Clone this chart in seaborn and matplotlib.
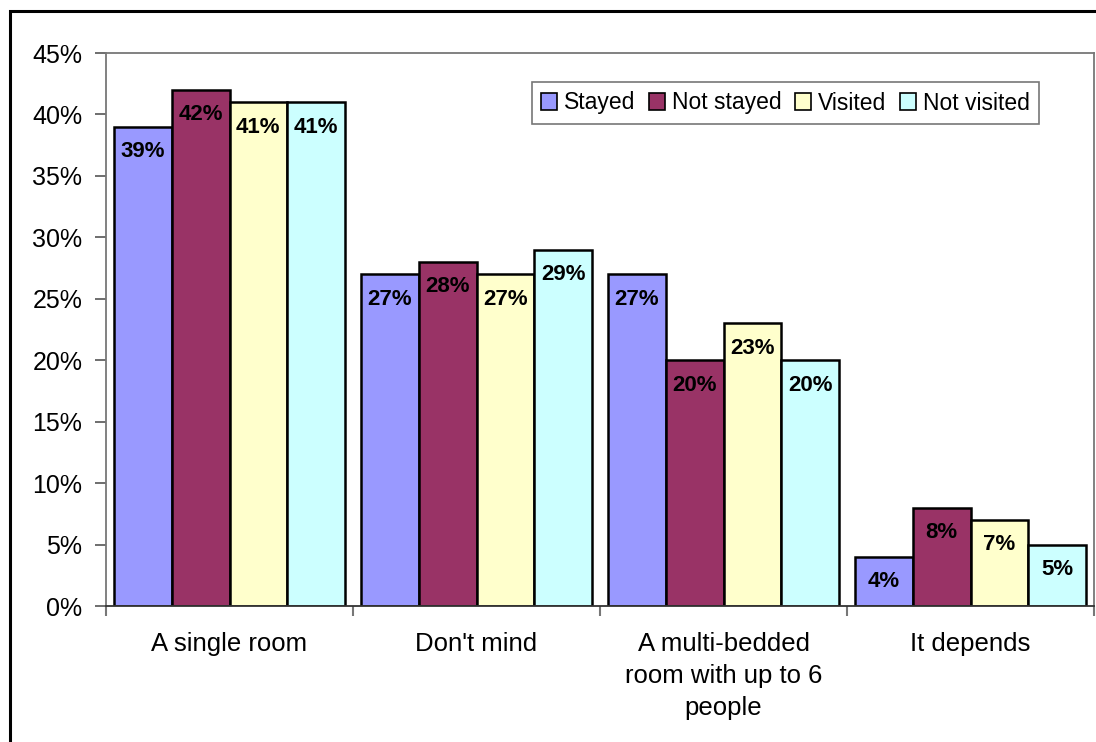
import matplotlib
matplotlib.use("Agg")
import matplotlib.pyplot as plt
import matplotlib.patches as mpatches
from matplotlib.ticker import FuncFormatter, FixedLocator
import seaborn as sns
import pandas as pd

# Survey answers: preferred room type, split by respondent group (percent)
categories = ["A single room", "Don't mind",
              "A multi-bedded\nroom with up to 6\npeople", "It depends"]
groups = ["Stayed", "Not stayed", "Visited", "Not visited"]
stayed = [39, 27, 27, 4]
not_stayed = [42, 28, 20, 8]
visited = [41, 27, 23, 7]
not_visited = [41, 29, 20, 5]
colors = ["#9999FF", "#993366", "#FFFFCC", "#CCFFFF"]

series = [stayed, not_stayed, visited, not_visited]
df = pd.DataFrame(
    [(cat, grp, vals[i]) for grp, vals in zip(groups, series)
     for i, cat in enumerate(categories)],
    columns=["category", "group", "value"],
)

sns.set_theme(style="white")
plt.rcParams["font.family"] = ["Liberation Sans", "DejaVu Sans"]
plt.rcParams["text.color"] = "black"
plt.rcParams["xtick.color"] = "black"
plt.rcParams["ytick.color"] = "black"
plt.rcParams["xtick.labelcolor"] = "black"
plt.rcParams["ytick.labelcolor"] = "black"

fig = plt.figure(figsize=(10.96, 7.42), dpi=100)
ax = fig.add_axes([106 / 1096, 1 - 606 / 742, (1094 - 106) / 1096, (606 - 53) / 742])

sns.barplot(data=df, x="category", y="value", hue="group", order=categories,
            hue_order=groups, palette=colors, edgecolor="black", linewidth=1.8,
            width=0.935, gap=0, saturation=1, errorbar=None, ax=ax)

ax.set_xlim(-0.5, len(categories) - 0.5)
ax.set_ylim(0, 45)
ax.set_yticks(range(0, 46, 5))
ax.yaxis.set_major_formatter(FuncFormatter(lambda v, _: f"{v:.0f}%"))
ax.set_xlabel("")
ax.set_ylabel("")

# Category names centred under each group; tick marks only between groups
ax.set_xticks(range(len(categories)))
ax.set_xticklabels(categories, fontsize=18.5, linespacing=1.42, va="top")
ax.xaxis.set_minor_locator(FixedLocator([i - 0.5 for i in range(len(categories) + 1)]))
ax.tick_params(axis="x", which="major", length=0, pad=19)
ax.tick_params(axis="x", which="minor", length=7, width=1.5, color="#777777",
               direction="out", bottom=True)
ax.tick_params(axis="y", which="major", length=8, width=1.2, color="#555555",
               direction="out", left=True, labelsize=18, pad=9)

for side in ["left", "top", "right"]:
    ax.spines[side].set_color("#777777")
    ax.spines[side].set_linewidth(1.3)
ax.spines["bottom"].set_color("#333333")
ax.spines["bottom"].set_linewidth(1.3)
ax.grid(False)

# Value labels inside the top of each bar
for container in ax.containers:
    for bar in container:
        h = bar.get_height()
        ax.annotate(f"{h:.0f}%", (bar.get_x() + bar.get_width() / 2, h),
                    xytext=(0, -18), textcoords="offset points",
                    ha="center", va="center", fontsize=16, fontweight="bold",
                    color="black")

# Legend in a single row
ax.get_legend().remove()
handles = [mpatches.Patch(facecolor=c, edgecolor="black", linewidth=1.2) for c in colors]
leg = fig.legend(handles, groups, loc="center", ncol=4,
                 bbox_to_anchor=(785.5 / 1096, 1 - 103 / 742),
                 fontsize=16.5, frameon=True, fancybox=False,
                 handlelength=0.7, handleheight=0.7, handletextpad=0.3,
                 columnspacing=0.6, borderpad=0.4, borderaxespad=0)
leg.get_frame().set_edgecolor("#555555")
leg.get_frame().set_linewidth(1.2)
for t in leg.get_texts():
    t.set_color("black")

# Outer chart-area frame
fig.patches.append(mpatches.Rectangle((10 / 1096, -0.05), 1.1, 1 - 11 / 742 + 0.05,
                                      transform=fig.transFigure, fill=False,
                                      edgecolor="black", linewidth=2.2))

fig.savefig("out.png", dpi=100)
